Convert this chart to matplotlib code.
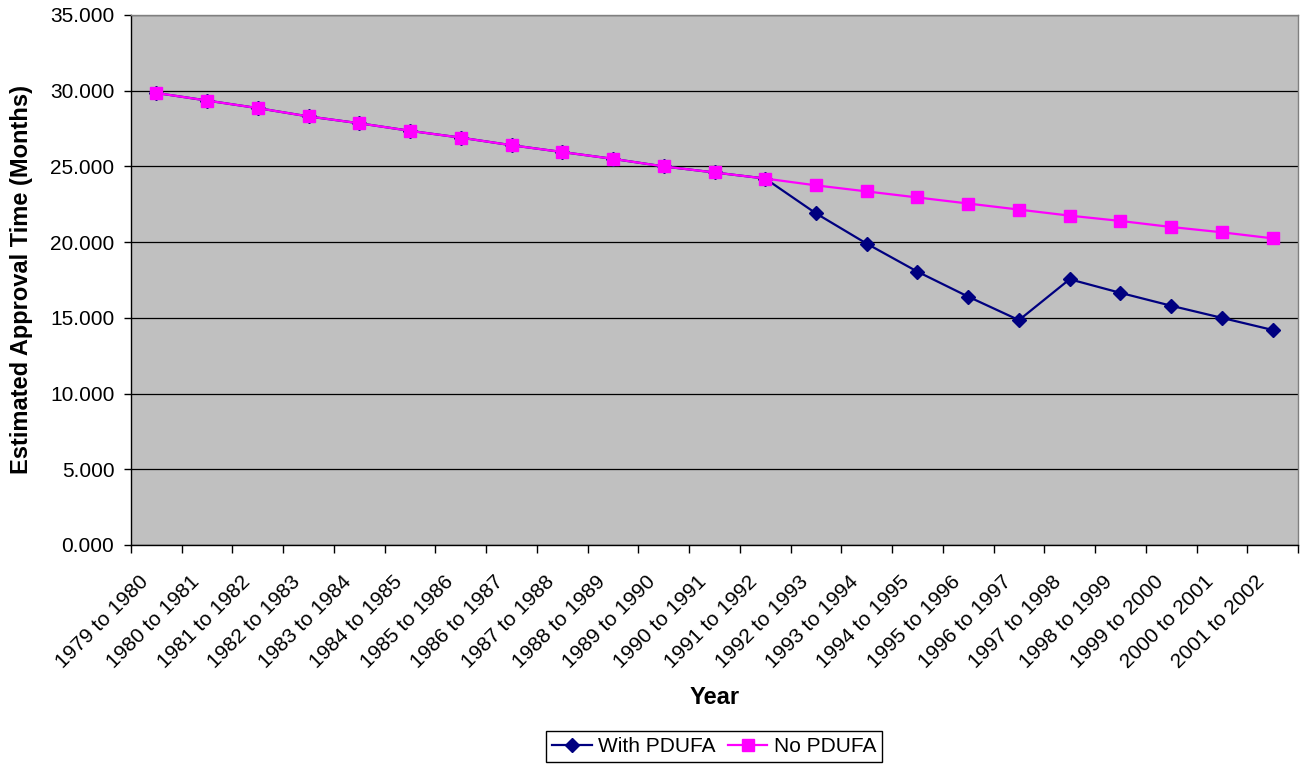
import matplotlib.pyplot as plt
import matplotlib.transforms as mtransforms
import numpy as np

plt.rcParams['font.family'] = ['Liberation Sans', 'DejaVu Sans']

# Approval time estimates per fiscal period
years = ['1979 to 1980', '1980 to 1981', '1981 to 1982', '1982 to 1983', '1983 to 1984',
         '1984 to 1985', '1985 to 1986', '1986 to 1987', '1987 to 1988', '1988 to 1989',
         '1989 to 1990', '1990 to 1991', '1991 to 1992', '1992 to 1993', '1993 to 1994',
         '1994 to 1995', '1995 to 1996', '1996 to 1997', '1997 to 1998', '1998 to 1999',
         '1999 to 2000', '2000 to 2001', '2001 to 2002']
with_pdufa = [29.85, 29.35, 28.85, 28.3, 27.85, 27.35, 26.9, 26.4, 25.95, 25.5, 25.0, 24.6,
              24.2, 21.9, 19.9, 18.05, 16.4, 14.85, 17.55, 16.65, 15.8, 15.0, 14.2]
no_pdufa = [29.85, 29.35, 28.85, 28.3, 27.85, 27.35, 26.9, 26.4, 25.95, 25.5, 25.0, 24.6,
            24.2, 23.75, 23.35, 22.95, 22.55, 22.15, 21.75, 21.4, 21.0, 20.65, 20.25]

fig = plt.figure(figsize=(13.08, 7.65), dpi=100)
ax = fig.add_axes([131 / 1308, 220 / 765, 1167 / 1308, 530 / 765])
ax.set_facecolor('#C0C0C0')

x = np.arange(len(years))
ax.plot(x, with_pdufa, color='#000080', marker='D', markersize=7, linewidth=1.6,
        label='With PDUFA', zorder=3)
ax.plot(x, no_pdufa, color='#FF00FF', marker='s', markersize=8, linewidth=1.6,
        label='No PDUFA', zorder=3)

ax.set_xlim(-0.5, len(years) - 0.5)
ax.set_ylim(0, 35)
ax.set_yticks(np.arange(0, 36, 5))
ax.set_yticklabels([f'{v:.3f}' for v in np.arange(0, 36, 5)], fontsize=15)
ax.yaxis.grid(True, color='black', linewidth=0.9)
ax.set_axisbelow(True)

# category labels centred, tick marks on the category boundaries
ax.set_xticks(x)
ax.set_xticklabels(years, rotation=45, ha='right', va='baseline',
                   rotation_mode='anchor', fontsize=15)
ax.tick_params(axis='x', length=0, pad=27)
shift = mtransforms.ScaledTranslation(-7 / 100, 0, fig.dpi_scale_trans)
for lbl in ax.get_xticklabels():
    lbl.set_transform(lbl.get_transform() + shift)
ax.set_xticks(np.arange(-0.5, len(years)), minor=True)
ax.tick_params(axis='x', which='minor', length=6, width=1, color='black')
ax.tick_params(axis='y', length=5, width=1, color='black', pad=7)

for side in ['left', 'bottom']:
    ax.spines[side].set_color('black')
    ax.spines[side].set_linewidth(1)
for side in ['top', 'right']:
    ax.spines[side].set_color('#808080')
    ax.spines[side].set_linewidth(1)

ax.set_ylabel('Estimated Approval Time (Months)', fontsize=17, fontweight='bold', va='center')
ax.yaxis.set_label_coords(-0.094, 0.5)
ax.set_xlabel('Year', fontsize=17, fontweight='bold', va='center')
ax.xaxis.set_label_coords(0.5, -0.2868)

leg = fig.legend(loc='center', bbox_to_anchor=(714 / 1308, 18.5 / 765), ncol=2, fontsize=15,
                 frameon=True, fancybox=False, edgecolor='black', framealpha=1,
                 handlelength=1.9, columnspacing=0.6, handletextpad=0.3,
                 borderpad=0.3)
leg.get_frame().set_linewidth(1)

fig.savefig('out.png', dpi=100)
